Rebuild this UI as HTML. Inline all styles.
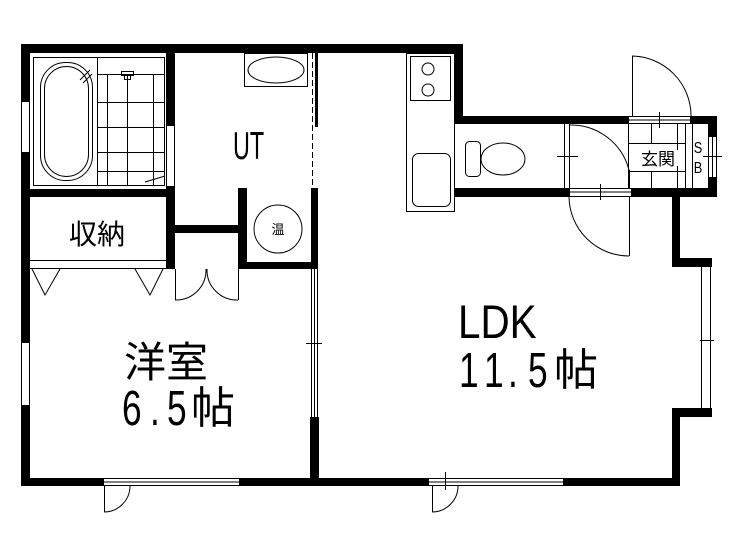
<!DOCTYPE html>
<html><head><meta charset="utf-8"><style>
html,body{margin:0;padding:0;background:#fff;}
svg{display:block;}
text{font-family:"Liberation Sans","Noto Sans CJK JP",sans-serif;fill:#000;}
</style></head><body>
<svg width="741" height="534" viewBox="0 0 741 534" xmlns="http://www.w3.org/2000/svg">
<g fill="#000">
<rect x="21" y="44" width="442" height="9"/>
<rect x="455" y="44" width="8" height="80"/>
<rect x="21" y="44" width="9" height="442"/>
<rect x="166" y="53" width="9" height="72"/>
<rect x="166" y="186" width="9" height="83"/>
<rect x="21" y="189" width="154" height="8"/>
<rect x="175" y="225" width="65" height="8"/>
<rect x="238" y="188" width="9" height="81"/>
<rect x="238" y="262" width="80" height="7"/>
<rect x="311" y="188" width="7" height="81"/>
<rect x="315" y="53" width="3" height="74"/>
<rect x="455" y="116" width="173" height="8"/>
<rect x="691" y="116" width="26" height="8"/>
<rect x="455" y="188" width="114" height="9"/>
<rect x="632" y="188" width="85" height="9"/>
<rect x="708" y="116" width="9" height="20"/>
<rect x="708" y="177" width="9" height="20"/>
<rect x="672" y="188" width="8" height="79"/>
<rect x="672" y="258" width="40" height="9"/>
<rect x="672" y="408" width="40" height="9"/>
<rect x="672" y="408" width="8" height="78"/>
<rect x="21" y="478" width="82" height="8"/>
<rect x="239" y="478" width="189" height="8"/>
<rect x="563" y="478" width="117" height="8"/>
<rect x="310" y="417" width="9" height="69"/>
</g>
<g fill="none" stroke="#000" stroke-width="1">
<rect x="21.5" y="101.5" width="8" height="51" fill="#fff"/>
<rect x="21.5" y="342.5" width="8" height="63" fill="#fff"/>
<rect x="33.5" y="57.5" width="131" height="128"/>
<line x1="97.5" y1="57" x2="97.5" y2="186"/>
<rect x="40.5" y="62.5" width="52" height="118" rx="25"/>
<rect x="44.5" y="66.5" width="44" height="110" rx="22"/>
<line x1="80" y1="80" x2="90" y2="70"/><line x1="83" y1="83" x2="92" y2="74"/>
<line x1="107.5" y1="74" x2="107.5" y2="185"/><line x1="127.5" y1="74" x2="127.5" y2="185"/><line x1="153.5" y1="74" x2="153.5" y2="185"/>
<line x1="98" y1="74.5" x2="165" y2="74.5"/><line x1="98" y1="102.5" x2="165" y2="102.5"/><line x1="98" y1="127.5" x2="165" y2="127.5"/><line x1="98" y1="152.5" x2="165" y2="152.5"/><line x1="98" y1="171.5" x2="165" y2="171.5"/>
<line x1="145" y1="182" x2="165" y2="176"/>
<rect x="121.5" y="71.5" width="12" height="4"/><rect x="124.5" y="75.5" width="6" height="4"/><line x1="127.5" y1="79" x2="127.5" y2="88"/>
<rect x="166.5" y="125.5" width="8" height="61" fill="#fff"/>
<line x1="30" y1="260.5" x2="166" y2="260.5"/><line x1="30" y1="268.5" x2="166" y2="268.5"/>
<polyline points="32,269 45,295 60,269"/><polyline points="135,269 150,295 163,269"/>
<line x1="175.5" y1="269" x2="175.5" y2="300"/><line x1="238.5" y1="269" x2="238.5" y2="300"/>
<path d="M175,300 A30,30 0 0 0 206,269"/><path d="M238,300 A30,30 0 0 1 207,269"/>
<rect x="244.5" y="53.5" width="63" height="33"/>
<ellipse cx="276" cy="70" rx="28" ry="13"/>
<line x1="312.5" y1="53" x2="312.5" y2="188" stroke-dasharray="6,3"/>
<circle cx="278" cy="229" r="24"/>
<line x1="311.5" y1="269" x2="311.5" y2="417"/><line x1="314.5" y1="269" x2="314.5" y2="417"/><line x1="317.5" y1="269" x2="317.5" y2="417"/>
<line x1="306" y1="343.5" x2="322" y2="343.5"/>
<rect x="103.5" y="478.5" width="136" height="7"/><line x1="103" y1="482" x2="239" y2="482"/>
<rect x="428.5" y="478.5" width="135" height="7"/><line x1="428" y1="482" x2="563" y2="482"/>
<line x1="104.5" y1="486" x2="104.5" y2="512"/><path d="M104,512 A26,26 0 0 0 130,486"/>
<line x1="432.5" y1="486" x2="432.5" y2="512"/><path d="M432,512 A26,26 0 0 0 458,486"/>
<line x1="445.5" y1="472" x2="445.5" y2="490"/>
<line x1="701.5" y1="267" x2="701.5" y2="408"/><line x1="710.5" y1="267" x2="710.5" y2="408"/>
<line x1="700" y1="340.5" x2="714" y2="340.5"/>
<rect x="406.5" y="53.5" width="48" height="158"/>
<rect x="410.5" y="56.5" width="40" height="44"/>
<circle cx="428" cy="69" r="6"/><circle cx="428" cy="90" r="6"/>
<rect x="412.5" y="153.5" width="38" height="53" rx="6"/>
<rect x="465.5" y="141.5" width="15" height="35" rx="4"/>
<ellipse cx="503" cy="159" rx="22" ry="16"/>
<line x1="564.5" y1="124" x2="564.5" y2="188"/><line x1="569.5" y1="124" x2="569.5" y2="188"/>
<line x1="557" y1="156.5" x2="578" y2="156.5"/>
<path d="M570,125 A60,60 0 0 1 629,170"/>
<line x1="629.5" y1="170" x2="629.5" y2="188"/>
<rect x="569.5" y="188.5" width="62" height="8"/><line x1="569" y1="192" x2="632" y2="192"/>
<line x1="600.5" y1="184" x2="600.5" y2="200"/>
<path d="M569,197 A60,60 0 0 0 629,256"/>
<line x1="629.5" y1="197" x2="629.5" y2="256"/>
<rect x="628.5" y="116.5" width="62" height="7"/><line x1="628" y1="120" x2="691" y2="120"/>
<line x1="659.5" y1="112" x2="659.5" y2="128"/>
<line x1="632.5" y1="56" x2="632.5" y2="116"/>
<path d="M632,56 A60,60 0 0 1 691,116"/>
<line x1="628.5" y1="124" x2="628.5" y2="188"/>
<line x1="651.5" y1="124" x2="651.5" y2="143"/><line x1="651.5" y1="171" x2="651.5" y2="188"/>
<line x1="677.5" y1="124" x2="677.5" y2="188"/><line x1="685.5" y1="124" x2="685.5" y2="188"/><line x1="692.5" y1="124" x2="692.5" y2="188"/>
<line x1="628" y1="143.5" x2="685" y2="143.5"/><line x1="628" y1="171.5" x2="685" y2="171.5"/>
<rect x="708.5" y="136.5" width="8" height="41" fill="#fff"/>
<line x1="712.5" y1="136" x2="712.5" y2="177"/>
<line x1="703" y1="156.5" x2="722" y2="156.5"/>
</g>
<rect x="629" y="150" width="56" height="16" fill="#fff"/>
<text x="658" y="165" font-size="17" text-anchor="middle">玄関</text>
<text transform="translate(698,153) scale(0.8,1)" font-size="16" text-anchor="middle">S</text>
<text transform="translate(698,173) scale(0.8,1)" font-size="16" text-anchor="middle">B</text>
<text x="278" y="234" font-size="13" text-anchor="middle">温</text>
<text transform="translate(233,159) scale(0.6,1)" font-size="39">UT</text>
<text x="69" y="244" font-size="28">収納</text>
<text x="124" y="377" font-size="42">洋室</text>
<text transform="translate(122,425) scale(0.72,1)" font-size="49">6</text>
<text transform="translate(150,425) scale(0.72,1)" font-size="49">.</text>
<text transform="translate(167,425) scale(0.72,1)" font-size="49">5</text>
<text x="191" y="423" font-size="44">帖</text>
<text transform="translate(458,338) scale(0.86,1)" font-size="47">LDK</text>
<text transform="translate(459,387) scale(0.72,1)" font-size="49">1</text>
<text transform="translate(484,387) scale(0.72,1)" font-size="49">1</text>
<text transform="translate(508,387) scale(0.72,1)" font-size="49">.</text>
<text transform="translate(528,387) scale(0.72,1)" font-size="49">5</text>
<text x="554" y="385" font-size="44">帖</text>
</svg>
</body></html>
